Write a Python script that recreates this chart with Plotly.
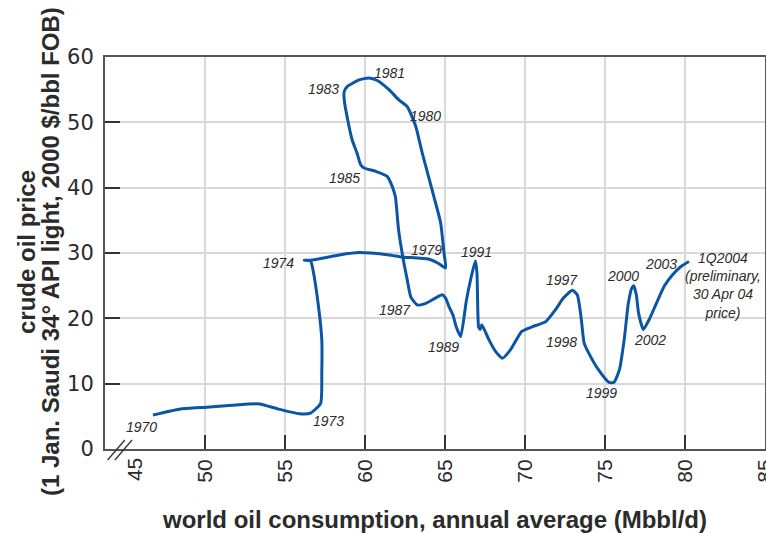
import plotly.graph_objects as go

# world oil consumption (Mbbl/d) vs crude oil price (2000 $/bbl), path 1970 -> 1Q2004
consumption = [46.75, 48.4, 50.1, 51.7, 53.4, 54.6, 55.9, 56.6, 57.23, 57.3, 57.3, 57.1, 56.75, 56.6,
               56.2, 56.6, 58.4, 59.6, 61.5, 62.3, 64.0, 64.6, 65.04,
               64.94, 64.73, 64.31, 63.58, 63.17, 62.64, 62.13, 61.5, 60.77, 60.25, 59.63, 58.9, 58.7,
               58.7, 59.0, 59.2, 59.5, 59.73, 59.94, 60.67, 61.4, 61.7, 61.9,
               62.1, 62.4, 62.64, 62.86, 63.27, 63.8, 64.4, 64.83, 65.04, 65.25, 65.5, 65.7, 65.98,
               66.33, 66.6, 66.9, 67.0, 67.1, 67.2, 67.3, 67.75, 68.17, 68.6, 69.1, 69.8, 70.45,
               71.3, 71.9, 72.4, 72.96, 73.27, 73.5, 73.7, 74.0, 74.6, 75.25, 75.56, 75.9, 76.2,
               76.46, 76.67, 76.8, 76.96, 77.1, 77.4, 77.75, 78.17, 78.7, 79.2, 79.73, 80.25]
price = [5.2, 6.1, 6.4, 6.7, 6.9, 6.1, 5.4, 5.5, 7.0, 11.6, 16.7, 21.7, 27.4, 28.8,
         28.9, 28.9, 29.7, 30.06, 29.7, 29.4, 29.05, 28.4, 27.7,
         30.0, 34.6, 38.6, 45.3, 49.4, 52.4, 53.4, 55.0, 56.4, 56.8, 56.5, 55.5, 54.7,
         53.5, 49.4, 47.3, 45.3, 43.5, 43.0, 42.5, 41.7, 40.2, 38.6,
         33.5, 28.9, 25.9, 23.3, 22.05, 22.3, 23.1, 23.6, 23.1, 21.8, 20.5, 18.7, 17.2,
         22.6, 25.9, 28.8, 26.9, 18.7, 18.3, 19.0, 16.7, 14.9, 13.9, 15.2, 18.0, 18.7,
         19.5, 21.3, 23.1, 24.3, 23.6, 20.3, 16.2, 14.6, 12.1, 10.2, 10.2, 12.1, 16.7,
         22.3, 24.6, 25.0, 23.6, 20.8, 18.3, 19.75, 22.05, 24.9, 26.6, 27.9, 28.7]

year_labels = ["1970", "1973", "1974", "1979", "1980", "1981", "1983", "1985", "1987", "1989",
               "1991", "1997", "1998", "1999", "2000", "2002", "2003",
               "1Q2004<br>(preliminary,<br>30 Apr 04<br>price)"]
label_x = [46.0, 57.75, 54.6, 63.83, 63.8, 61.54, 57.4, 58.75, 61.9, 64.9,
           66.98, 72.3, 72.3, 74.8, 76.1, 77.8, 78.5, 82.4]
label_y = [3.4, 4.3, 28.5, 30.5, 51.0, 57.6, 55.1, 41.5, 21.2, 15.6,
           30.1, 25.8, 16.4, 8.6, 26.5, 16.7, 28.3, 25.0]

x_ticks = [50, 55, 60, 65, 70, 75, 80, 85]
y_ticks = [0, 10, 20, 30, 40, 50, 60]
x_title = "world oil consumption, annual average (Mbbl/d)"
y_title_lines = ["crude oil price", "(1 Jan. Saudi 34\u00b0 API light, 2000 $/bbl FOB)"]

LINE = "#0b56a4"
TXT = "#2b2b2b"
AX = "#555555"
GRID = "#d9d9d9"
SANS = "Liberation Sans, Arial, sans-serif"

fig = go.Figure()
fig.add_trace(go.Scatter(x=consumption, y=price, mode="lines",
                         line=dict(color=LINE, width=3, shape="spline", smoothing=0.5),
                         hoverinfo="skip", showlegend=False))

for t, lx, ly in zip(year_labels, label_x, label_y):
    fig.add_annotation(x=lx, y=ly, text="<i>" + t + "</i>", showarrow=False,
                       font=dict(family=SANS, size=14, color=TXT), align="center")

# "45" label at the broken axis start
fig.add_annotation(x=45.6, y=0, yref="y", text="45", showarrow=False, textangle=-90,
                   yanchor="top", yshift=-7,
                   font=dict(family=SANS, size=21, color=TXT))

# y axis title (two rotated lines)
for line_text, shift in zip(y_title_lines, (-79, -55)):
    fig.add_annotation(xref="paper", yref="paper", x=0, y=0.5, xanchor="center", yanchor="middle",
                       xshift=shift, yshift=1, text=line_text, textangle=-90, showarrow=False,
                       font=dict(family=SANS, size=24, color=TXT, weight="bold"))

# axis break marks
for dx in (0.0, 0.011):
    fig.add_shape(type="line", xref="paper", yref="paper",
                  x0=0.004 + dx, y0=-0.028, x1=0.030 + dx, y1=0.023,
                  line=dict(color="#333333", width=1.3))

fig.update_layout(
    width=766, height=533,
    margin=dict(l=105, r=1, t=57, b=84, autoexpand=False),
    paper_bgcolor="white", plot_bgcolor="white",
    xaxis=dict(range=[43.75, 85.002], tickvals=x_ticks, tickangle=-90,
               ticks="inside", ticklen=14, tickwidth=1.5, tickcolor="#333333",
               ticklabeloverflow="allow",
               showgrid=True, gridcolor=GRID, gridwidth=1.5,
               showline=True, linecolor=AX, linewidth=2, mirror=True,
               zeroline=False, automargin=False,
               tickfont=dict(family=SANS, size=21, color=TXT),
               title=dict(text=x_title,
                          font=dict(family=SANS, size=24, color=TXT, weight="bold"),
                          standoff=30)),
    yaxis=dict(range=[0, 60], tickvals=y_ticks,
               ticks="inside", ticklen=15, tickwidth=1.5, tickcolor="#333333",
               ticklabelstandoff=5,
               showgrid=True, gridcolor=GRID, gridwidth=1.5,
               showline=True, linecolor=AX, linewidth=2, mirror=True,
               zeroline=False, automargin=False,
               tickfont=dict(family="DejaVu Sans, sans-serif", size=21, color=TXT)),
)

fig.write_html("out.html", config={"displayModeBar": False},
               post_script="document.body.style.margin='0';document.body.style.overflow='hidden';")
